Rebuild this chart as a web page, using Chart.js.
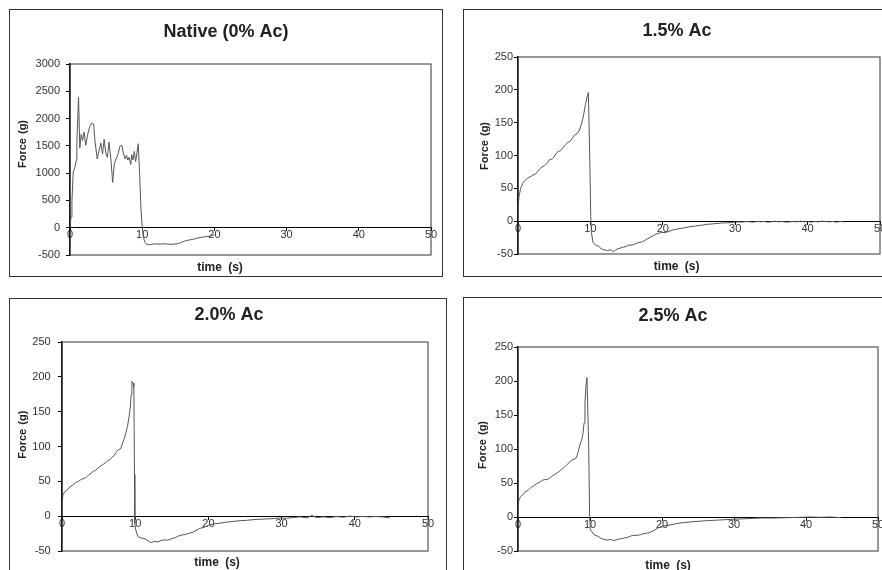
<!DOCTYPE html>
<html>
<head>
<meta charset="utf-8">
<script src="https://cdn.jsdelivr.net/npm/chart.js@4/dist/chart.umd.min.js"></script>
<style>
  html, body { margin: 0; padding: 0; background: #fff; overflow: hidden; }
  body { width: 882px; height: 570px; position: relative; }
  .panel { position: absolute; border: 1px solid #333; background: #fff; }
  .panel canvas { display: block; }
</style>
</head>
<body>
<div class="panel" style="left:9px;top:9px;width:432px;height:266px"><canvas id="c1" width="432" height="266"></canvas></div>
<div class="panel" style="left:463px;top:9px;width:430px;height:266px"><canvas id="c2" width="430" height="266"></canvas></div>
<div class="panel" style="left:9px;top:298px;width:436px;height:272px"><canvas id="c3" width="436" height="272"></canvas></div>
<div class="panel" style="left:463px;top:297px;width:430px;height:276px"><canvas id="c4" width="430" height="276"></canvas></div>

<script>
// tick labels
const timeTicks = [0, 10, 20, 30, 40, 50];
const nativeForceTicks = [-500, 0, 500, 1000, 1500, 2000, 2500, 3000];
const acForceTicks = [-50, 0, 50, 100, 150, 200, 250];

// Native (0% Ac)
const nativeTime = [0, 0.14, 0.27, 0.45, 0.68, 0.86, 0.95, 1.18, 1.36, 1.55, 1.73, 1.95, 2.18, 2.45, 2.73, 3.0,
  3.27, 3.45, 3.77, 4.0, 4.27, 4.5, 4.73, 4.95, 5.18, 5.41, 5.68, 5.91, 6.14, 6.36, 6.64, 6.91, 7.18, 7.45,
  7.64, 7.82, 8.0, 8.18, 8.41, 8.55, 8.73, 8.91, 9.09, 9.27, 9.45, 9.64, 9.82, 10.0, 10.18, 10.36, 10.6,
  11.0, 11.5, 12.0, 12.5, 13.0, 13.5, 14.0, 14.5, 15.0, 15.5, 16.0, 16.5, 17.0, 17.5, 18.0, 18.5, 19.0, 19.5, 20.0];
const nativeForce = [0, 195, 500, 1020, 1110, 1230, 1540, 2390, 1460, 1710, 1600, 1750, 1510, 1710, 1850, 1915,
  1900, 1600, 1260, 1400, 1550, 1350, 1620, 1370, 1290, 1570, 1230, 830, 1170, 1260, 1340, 1490, 1510, 1330,
  1260, 1330, 1240, 1290, 1160, 1340, 1240, 1400, 1210, 1370, 1540, 990, 380, 10, -170, -270, -300,
  -310, -300, -295, -300, -295, -300, -305, -300, -290, -265, -240, -225, -215, -195, -180, -170, -160, -150, -130];

// 1.5% Ac
const ac15Time = [0, 0.14, 0.37, 0.65, 0.92, 1.29, 1.66, 2.03, 2.4, 2.67, 3.04, 3.32, 3.69, 4.06, 4.33, 4.75,
  4.98, 5.21, 5.53, 5.9, 6.22, 6.59, 6.91, 7.28, 7.56, 7.83, 8.2, 8.48, 8.76, 9.03, 9.31, 9.59, 9.72, 9.91,
  10.05, 10.14, 10.37, 10.7, 11.2, 11.5, 11.9, 12.35, 12.8, 13.2, 13.5, 13.96, 14.4, 14.9, 15.3, 15.8, 16.3,
  16.7, 17.2, 17.6, 18.1, 18.6, 19.0, 19.7,
  20.5, 21, 21.5, 22, 22.5, 23, 23.5, 24, 24.5, 25, 25.5, 26, 26.5, 27, 27.5, 28, 28.5, 29, 29.5, 30,
  30.5, 31, 31.5, 32, 32.5, 33, 33.5, 34, 34.5, 35, 35.5, 36, 36.5, 37, 37.5, 38, 38.5, 39, 39.5, 40,
  40.5, 41, 41.5, 42, 42.5, 43, 43.5, 44, 44.5, 45];
const ac15Force = [22.5, 37.5, 50, 57.5, 61.5, 65, 67.5, 70, 71.5, 75, 80, 82.5, 85, 88.5, 93.5, 95,
  97.5, 102.5, 106, 107.5, 112.5, 116.5, 120, 122.5, 127.5, 131.5, 133.5, 138.5, 147.5, 160, 177.5, 191.5, 196, 97.5,
  7.5, -17.5, -32.5, -36.5, -38.5, -42.5, -43.5, -45, -43.5, -46.5, -43.5, -41.5, -40, -38.5, -36.5, -36.5, -34,
  -32.5, -31.5, -28.5, -25.5, -22.5, -20, -17.5,
  -17, -15, -13, -12, -11, -10, -9, -8, -7.5, -6.5, -6, -5, -4.5, -4, -3.5, -3, -2.5, -2.5, -2, -1.5,
  -1, -1.5, -0.5, -1, -1.5, -0.5, -1, -0.5, -1.5, -1, 0, -1, -0.5, -1.5, -1, -0.5, -1, 0, -1, -0.5,
  -1.5, -0.5, -1, 0, -0.5, -1, -0.5, -1.5, -0.5, -1];

// 2.0% Ac
const ac20Time = [0, 0.14, 0.36, 0.73, 1.09, 1.5, 1.95, 2.27, 2.64, 3.0, 3.32, 3.64, 4.0, 4.27, 4.55, 4.91,
  5.27, 5.59, 5.91, 6.27, 6.55, 6.82, 7.18, 7.45, 7.73, 8.0, 8.23, 8.45, 8.73, 8.95, 9.14, 9.32, 9.45, 9.55,
  9.7, 9.82, 9.9, 9.95, 10.05, 10.36, 10.7, 11.2, 11.5, 11.95, 12.27, 12.6, 13.1, 13.5, 14.0, 14.45, 14.9,
  15.4, 15.8, 16.4, 16.95, 17.4, 17.9, 18.3, 18.8, 19.45, 20.0, 20.8, 21.6, 22.5, 23.4, 24.3, 25.2, 26.1,
  27.0, 27.9, 28.9, 29.8, 30.7, 31.6, 32.5, 33.5, 34.1, 34.8, 35.7, 36.6, 37.5, 38.4, 39.3, 40.2, 41.1,
  42.0, 42.9, 43.8, 44.8];
const ac20Force = [19, 31, 35, 38, 42, 45, 49, 50, 53, 54, 56, 59, 62, 64.5, 65.5, 69,
  72, 74, 76.5, 80, 81, 84.5, 87.5, 93, 95.5, 96.5, 103, 110, 119.5, 129, 141, 155, 174.5, 193.5,
  191, 185, 60, -10, -19, -29, -31, -32, -33.5, -37, -38, -36, -37, -35, -34, -34.5, -32.5,
  -31, -29, -27, -26, -24.5, -23, -20.5, -17.7, -15.8, -13, -11, -10, -8.5, -7.5, -6.5, -6, -5,
  -4.5, -4, -3.5, -2.5, -3, -2, -1, -2.5, 1, -2, -1, -2, -0.5, -1.5, 0, -1, -0.5,
  -1, -0.5, -1, -2.5];

// 2.5% Ac
const ac25Time = [0, 0.14, 0.37, 0.74, 1.1, 1.48, 1.85, 2.2, 2.6, 2.96, 3.4, 3.7, 4.07, 4.35, 4.68, 5.0,
  5.37, 5.7, 6.0, 6.4, 6.7, 7.1, 7.4, 7.8, 8.06, 8.24, 8.43, 8.6, 8.84, 9.03, 9.17, 9.3, 9.44, 9.58,
  9.81, 9.95, 10.05, 10.55, 11.0, 11.5, 11.9, 12.4, 12.9, 13.3, 13.8, 14.26, 14.7, 15.2, 15.65, 16.1,
  16.6, 17.0, 17.5, 18.0, 18.4, 18.9, 19.35, 20.0, 21.1, 22.5, 24.3, 26.2, 28.0, 29.9, 31.7, 33.6,
  35.5, 37.3, 39.2, 40.6, 42.0, 43.3, 44.9];
const ac25Force = [18, 25.4, 30, 34, 37.7, 40, 44, 46, 49, 51, 54, 55, 55, 57, 59.6, 62,
  64.5, 67, 69.4, 73, 76, 80, 83, 85, 86.5, 91.4, 98.8, 106, 113, 123, 138, 167, 192, 205,
  108.6, 1, -18.6, -26, -28, -31, -33, -34, -33, -34.7, -33, -32, -31, -30, -28, -27,
  -27, -26, -24.5, -23.5, -22.5, -19.5, -16.6, -13.7, -11.8, -8.8, -6.9, -5.4, -4.4, -3.4, -2.5, -1.5,
  -1.5, -1, -0.5, 0, -0.5, 0, -1];

Chart.defaults.font.family = "'Liberation Sans', Arial, sans-serif";
Chart.defaults.font.size = 11;
Chart.defaults.color = '#333';

// frame round the plot area plus the two axis titles
function panelDecor(lay) {
  return {
    id: 'panelDecor',
    afterDraw(chart) {
      const { ctx, chartArea: a } = chart;
      ctx.save();
      ctx.strokeStyle = '#333';
      ctx.lineWidth = 1;
      ctx.strokeRect(a.left, a.top, a.right - a.left, a.bottom - a.top);
      ctx.fillStyle = '#222';
      ctx.textAlign = 'center';
      ctx.textBaseline = 'middle';
      ctx.font = "bold 12px 'Liberation Sans', Arial, sans-serif";
      ctx.wordSpacing = '3px';
      ctx.fillText('time (s)', lay.xTitle[0], lay.xTitle[1]);
      ctx.font = "bold 11px 'Liberation Sans', Arial, sans-serif";
      ctx.wordSpacing = '1px';
      ctx.translate(lay.yTitle[0], lay.yTitle[1]);
      ctx.rotate(-Math.PI / 2);
      ctx.fillText('Force (g)', 0, 0);
      ctx.restore();
    }
  };
}

function makePanel(id, title, time, force, yTicks, lay) {
  const points = time.map((t, i) => ({ x: t, y: force[i] }));
  new Chart(document.getElementById(id), {
    type: 'scatter',
    data: {
      datasets: [{
        data: points,
        showLine: true,
        borderColor: '#555',
        borderWidth: 1,
        pointRadius: 0,
        tension: 0
      }]
    },
    options: {
      responsive: false,
      animation: false,
      devicePixelRatio: 1,
      layout: { padding: { left: lay.padLeft, right: lay.padRight, top: 0, bottom: lay.padBottom } },
      plugins: {
        legend: { display: false },
        tooltip: { enabled: false },
        title: {
          display: true,
          text: title,
          color: '#222',
          font: { size: 18, weight: 'bold' },
          padding: { top: lay.titleTop, bottom: lay.titleBottom }
        }
      },
      scales: {
        x: {
          type: 'linear',
          position: { y: 0 },
          min: timeTicks[0],
          max: timeTicks[timeTicks.length - 1],
          afterBuildTicks: s => { s.ticks = timeTicks.map(v => ({ value: v })); },
          ticks: { padding: -2, autoSkip: false, maxRotation: 0, callback: v => String(v) },
          grid: { drawOnChartArea: false, tickLength: 3, color: '#000' },
          border: { color: '#000', width: 1 }
        },
        y: {
          min: yTicks[0],
          max: yTicks[yTicks.length - 1],
          afterBuildTicks: s => { s.ticks = yTicks.map(v => ({ value: v })); },
          afterFit: s => { s.width = lay.yWidth; },
          ticks: { padding: lay.yLabelPad, callback: v => String(v) },
          grid: { drawOnChartArea: false, tickLength: 4, color: '#000' },
          border: { color: '#000', width: 1.5 }
        }
      }
    },
    plugins: [panelDecor(lay)]
  });
}

makePanel('c1', 'Native (0% Ac)', nativeTime, nativeForce, nativeForceTicks,
  { padLeft: 11, padRight: 11, padBottom: 21, yWidth: 49, yLabelPad: 6, titleTop: 11.2, titleBottom: 21.2,
    xTitle: [210, 258], yTitle: [12.5, 134] });
makePanel('c2', '1.5% Ac', ac15Time, ac15Force, acForceTicks,
  { padLeft: 10, padRight: 14, padBottom: 22, yWidth: 44, yLabelPad: 1, titleTop: 10.2, titleBottom: 15.2,
    xTitle: [212.7, 257], yTitle: [20.7, 136] });
makePanel('c3', '2.0% Ac', ac20Time, ac20Force, acForceTicks,
  { padLeft: 20, padRight: 18, padBottom: 20, yWidth: 32, yLabelPad: 7.3, titleTop: 5.2, titleBottom: 16.2,
    xTitle: [207, 264], yTitle: [12.5, 135.7] });
makePanel('c4', '2.5% Ac', ac25Time, ac25Force, acForceTicks,
  { padLeft: 4, padRight: 16, padBottom: 23, yWidth: 50, yLabelPad: 1, titleTop: 7.2, titleBottom: 20.2,
    xTitle: [204, 268], yTitle: [18.7, 147] });
</script>
</body>
</html>
